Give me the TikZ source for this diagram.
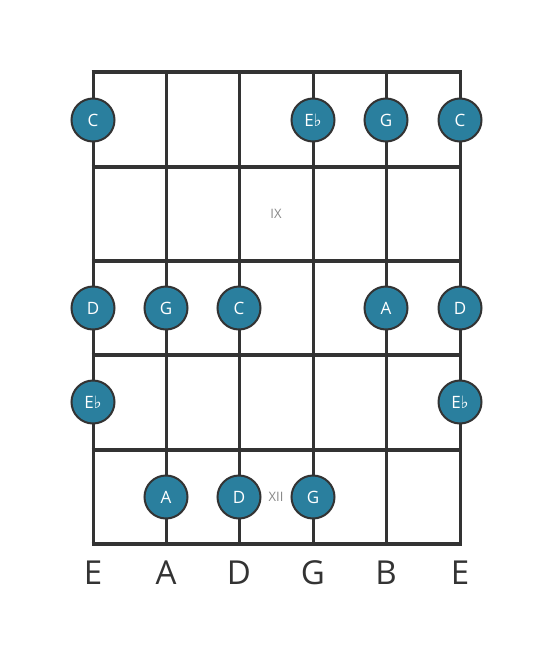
\documentclass[tikz,border=0pt]{standalone}
\usepackage{fontspec}
\setmainfont{Open Sans}
\newfontfamily\symfont{DejaVu Sans}
\definecolor{notefill}{HTML}{2A7F9E}
\definecolor{linecol}{HTML}{333333}
\definecolor{fretlbl}{HTML}{888888}
\newcommand{\flt}{{\symfont\char"266D}}
\begin{document}
\begin{tikzpicture}[x=1pt,y=-1pt,
  fretline/.style={line width=4.5pt,draw=linecol},
  stringline/.style={line width=3pt,draw=linecol},
  note/.style={circle,draw=linecol,line width=2pt,fill=notefill,minimum size=43pt,inner sep=0pt,text=white,font=\fontsize{17}{17}\selectfont},
  strlbl/.style={text=linecol,font=\fontsize{33}{33}\selectfont,anchor=center},
  fretnum/.style={text=fretlbl,font=\fontsize{13}{13}\selectfont}]
\useasboundingbox (0,0) rectangle (553,656);
% strings
\foreach \x [count=\i] in {93,166,239,313,386,460} {
  \coordinate (s\i t) at (\x,72);
  \coordinate (s\i b) at (\x,544);
  \draw[stringline] (s\i t) -- (s\i b);
}
% frets
\foreach \y [count=\j] in {72,167,261,355,450,544} {
  \coordinate (f\j l) at (91.5,\y);
  \coordinate (f\j r) at (461.5,\y);
  \draw[fretline] (f\j l) -- (f\j r);
}
% fret numbers
\node[fretnum] (ix) at (276,214) {IX};
\node[fretnum] (xii) at (276,497) {XII};
% notes
\node[note] (n1) at (93,120) {C};
\node[note] (n2) at (313,120) {E\flt};
\node[note] (n3) at (386,120) {G};
\node[note] (n4) at (460,120) {C};
\node[note] (n5) at (93,308) {D};
\node[note] (n6) at (166,308) {G};
\node[note] (n7) at (239,308) {C};
\node[note] (n8) at (386,308) {A};
\node[note] (n9) at (460,308) {D};
\node[note] (n10) at (93,402) {E\flt};
\node[note] (n11) at (460,402) {E\flt};
\node[note] (n12) at (166,497) {A};
\node[note] (n13) at (239,497) {D};
\node[note] (n14) at (313,497) {G};
% string labels
\node[strlbl] (l1) at (93,573) {E};
\node[strlbl] (l2) at (166,573) {A};
\node[strlbl] (l3) at (239,573) {D};
\node[strlbl] (l4) at (313,573) {G};
\node[strlbl] (l5) at (386,573) {B};
\node[strlbl] (l6) at (460,573) {E};
\end{tikzpicture}
\end{document}
